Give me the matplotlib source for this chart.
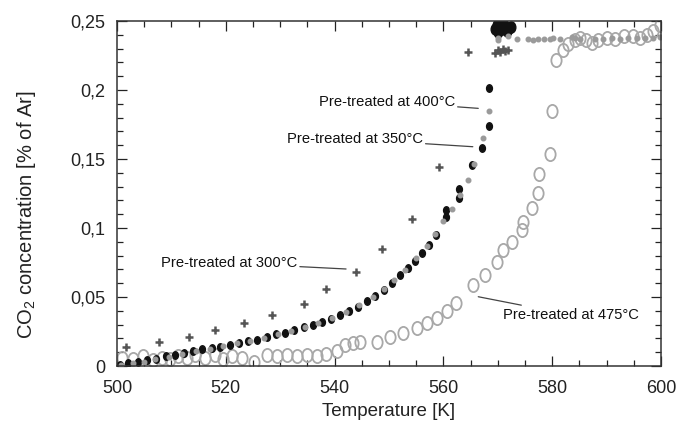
import matplotlib
matplotlib.use("Agg")
import matplotlib.pyplot as plt
from matplotlib.markers import MarkerStyle
from matplotlib.transforms import Affine2D
from matplotlib.ticker import MultipleLocator

plt.rcParams['font.family'] = ['Liberation Sans', 'DejaVu Sans']
plt.rcParams['mathtext.fontset'] = 'custom'
plt.rcParams['mathtext.rm'] = 'Liberation Sans'
plt.rcParams['mathtext.it'] = 'Liberation Sans'

# --- data ---
# pre-treated at 300 C (plus markers)
t300 = [501.7, 507.7, 513.2, 518.1, 523.3, 528.4, 534.3, 538.4, 543.9, 548.7,
        554.2, 559.2, 564.5, 569.5, 570.0, 570.4, 570.9, 571.4, 571.8]
c300 = [0.0140, 0.0176, 0.0207, 0.0263, 0.0314, 0.0368, 0.0449, 0.0558, 0.0683, 0.0846,
        0.1063, 0.1444, 0.2272, 0.2265, 0.2290, 0.2275, 0.2295, 0.2280, 0.2288]

# pre-treated at 350 C (black ovals)
t350 = [500.5, 502.0, 503.8, 505.5, 507.2, 509.0, 510.6, 512.3, 514.0, 515.7,
        517.4, 519.0, 520.7, 522.4, 524.1, 525.8, 527.5, 529.2, 530.9, 532.6,
        534.3, 536.0, 537.7, 539.4, 541.0, 542.7, 544.3, 546.0, 547.5, 549.0,
        550.5, 552.0, 553.4, 554.8, 556.1, 557.4, 558.6, 560.4, 560.5, 562.9,
        562.9, 565.2, 567.0, 568.4, 568.4]
c350 = [0.0010, 0.0020, 0.0030, 0.0040, 0.0050, 0.0070, 0.0080, 0.0095, 0.0110, 0.0120,
        0.0130, 0.0140, 0.0155, 0.0170, 0.0180, 0.0190, 0.0210, 0.0230, 0.0240, 0.0260,
        0.0280, 0.0300, 0.0320, 0.0340, 0.0370, 0.0400, 0.0430, 0.0470, 0.0510, 0.0550,
        0.0600, 0.0660, 0.0710, 0.0760, 0.0820, 0.0880, 0.0950, 0.1080, 0.1130, 0.1217,
        0.1280, 0.1457, 0.1578, 0.1739, 0.2012]
# saturated cluster at the top
t350_top = [569.4, 569.8, 570.1, 570.4, 570.8, 571.2, 571.6, 572.0, 572.4]
c350_top = [0.2440, 0.2470, 0.2420, 0.2460, 0.2440, 0.2470, 0.2430, 0.2450, 0.2455]

# pre-treated at 400 C (small grey dots)
t400 = [500.8, 503.0, 505.0, 507.0, 509.5, 512.0, 514.5, 517.0, 519.5, 522.0,
        524.5, 527.0, 529.5, 532.0, 534.5, 537.0, 539.5, 542.0, 544.5, 547.0,
        549.0, 551.0, 553.0, 555.0, 557.0, 558.5, 560.0, 561.5, 563.0, 564.5,
        565.6, 567.3, 568.4, 570.0, 570.1, 571.9, 573.5, 575.6, 576.5, 577.4,
        578.4, 579.6, 580.2, 581.4, 583.6, 584.2, 585.1, 587.9, 589.4, 590.9,
        592.5, 594.0, 595.5, 597.1, 598.6, 599.8]
c400 = [0.0005, 0.0020, 0.0030, 0.0050, 0.0065, 0.0090, 0.0110, 0.0125, 0.0145, 0.0165,
        0.0180, 0.0205, 0.0230, 0.0255, 0.0280, 0.0310, 0.0345, 0.0390, 0.0445, 0.0500,
        0.0555, 0.0620, 0.0695, 0.0780, 0.0870, 0.0955, 0.1050, 0.1135, 0.1240, 0.1350,
        0.1465, 0.1650, 0.1850, 0.2380, 0.2360, 0.2393, 0.2367, 0.2367, 0.2365, 0.2368,
        0.2366, 0.2372, 0.2374, 0.2366, 0.2382, 0.2375, 0.2370, 0.2372, 0.2368, 0.2375,
        0.2372, 0.2378, 0.2376, 0.2380, 0.2378, 0.2382]

# pre-treated at 475 C (open grey circles)
t475 = [500.9, 502.9, 504.8, 506.6, 508.2, 509.7, 511.2, 512.8, 514.3, 516.2,
        518.0, 519.5, 521.1, 522.9, 525.1, 527.5, 529.4, 531.2, 533.0, 534.9,
        536.7, 538.5, 540.4, 541.9, 543.4, 544.7, 547.7, 550.2, 552.6, 555.1,
        556.9, 558.8, 560.6, 562.4, 565.5, 567.6, 569.8, 571.0, 572.6, 574.4,
        574.7, 576.2, 577.3, 577.6, 579.6, 579.9, 580.7, 582.0, 582.9, 584.2,
        585.1, 586.2, 587.3, 588.4, 590.0, 591.5, 593.1, 594.9, 596.1, 597.4,
        598.6, 599.8]
c475 = [0.0060, 0.0050, 0.0070, 0.0040, 0.0060, 0.0050, 0.0070, 0.0060, 0.0080, 0.0060,
        0.0080, 0.0050, 0.0070, 0.0060, 0.0030, 0.0080, 0.0070, 0.0080, 0.0070, 0.0080,
        0.0070, 0.0090, 0.0110, 0.0150, 0.0170, 0.0177, 0.0177, 0.0210, 0.0236, 0.0273,
        0.0310, 0.0345, 0.0398, 0.0457, 0.0587, 0.0659, 0.0752, 0.0841, 0.0901, 0.0983,
        0.1045, 0.1143, 0.1251, 0.1391, 0.1534, 0.1850, 0.2217, 0.2290, 0.2333, 0.2365,
        0.2377, 0.2360, 0.2341, 0.2365, 0.2377, 0.2370, 0.2391, 0.2391, 0.2377, 0.2401,
        0.2425, 0.2471]

y_ticks = [0, 0.05, 0.1, 0.15, 0.2, 0.25]
y_tick_labels = ["0", "0,05", "0,1", "0,15", "0,2", "0,25"]
x_ticks = [500, 520, 540, 560, 580, 600]

fig = plt.figure(figsize=(6.78, 4.25), dpi=100)
ax = fig.add_axes([0.1726, 0.1388, 0.8024, 0.8118])

oval = MarkerStyle('o', transform=Affine2D().scale(0.78, 1.0))

ax.plot(t475, c475, linestyle='none', marker=oval, ms=9.5, mfc='none',
        mec='#a8a8a8', mew=1.3)
ax.plot(t350, c350, linestyle='none', marker=oval, ms=5.4, color='#111111')
ax.plot(t350_top, c350_top, linestyle='none', marker=oval, ms=8, color='#111111')
ax.plot(t400, c400, linestyle='none', marker='o', ms=3.3, color='#9a9a9a')
ax.plot(t300, c300, linestyle='none', marker='+', ms=6, mew=1.8, color='#555555')

ax.set_xlim(500, 600)
ax.set_ylim(0, 0.25)
ax.set_xticks(x_ticks)
ax.set_yticks(y_ticks)
ax.set_yticklabels(y_tick_labels)
ax.xaxis.set_minor_locator(MultipleLocator(5))
ax.yaxis.set_minor_locator(MultipleLocator(0.01))
ax.tick_params(which='both', direction='in', top=True, right=True,
               labelsize=13, width=0.9, colors='#222222')
ax.tick_params(axis='x', which='major', length=7, pad=10)
ax.tick_params(axis='y', which='major', length=7, pad=8.5)
ax.tick_params(which='minor', length=4.5)
for s in ax.spines.values():
    s.set_linewidth(1.1)
    s.set_color('#333333')

ax.set_xlabel("Temperature [K]", fontsize=13.5, color='#222222', va='center')
ax.xaxis.set_label_coords(0.5, -0.133)
fig.text(27 / 678, 1 - 215 / 425, "CO$_2$ concentration [% of Ar]", fontsize=14.5,
         color='#222222', rotation=90, ha='center', va='center')

arrow = dict(arrowstyle='-', color='#444444', lw=0.9, shrinkA=0, shrinkB=0)
ann_font = dict(fontsize=10.6, color='#111111')
ax.annotate("Pre-treated at 300°C", xy=(542.1, 0.0703), xytext=(533.1, 0.0746),
            ha='right', va='center', arrowprops=arrow, **ann_font)
ax.annotate("Pre-treated at 350°C", xy=(565.4, 0.1589), xytext=(556.2, 0.1643),
            ha='right', va='center', arrowprops=arrow, **ann_font)
ax.annotate("Pre-treated at 400°C", xy=(566.4, 0.1867), xytext=(562.1, 0.1915),
            ha='right', va='center', arrowprops=arrow, **ann_font)
ax.annotate("Pre-treated at 475°C", xy=(566.4, 0.0502), xytext=(571.0, 0.0370),
            ha='left', va='center', arrowprops=arrow, **ann_font)

fig.savefig("out.png", dpi=100)
